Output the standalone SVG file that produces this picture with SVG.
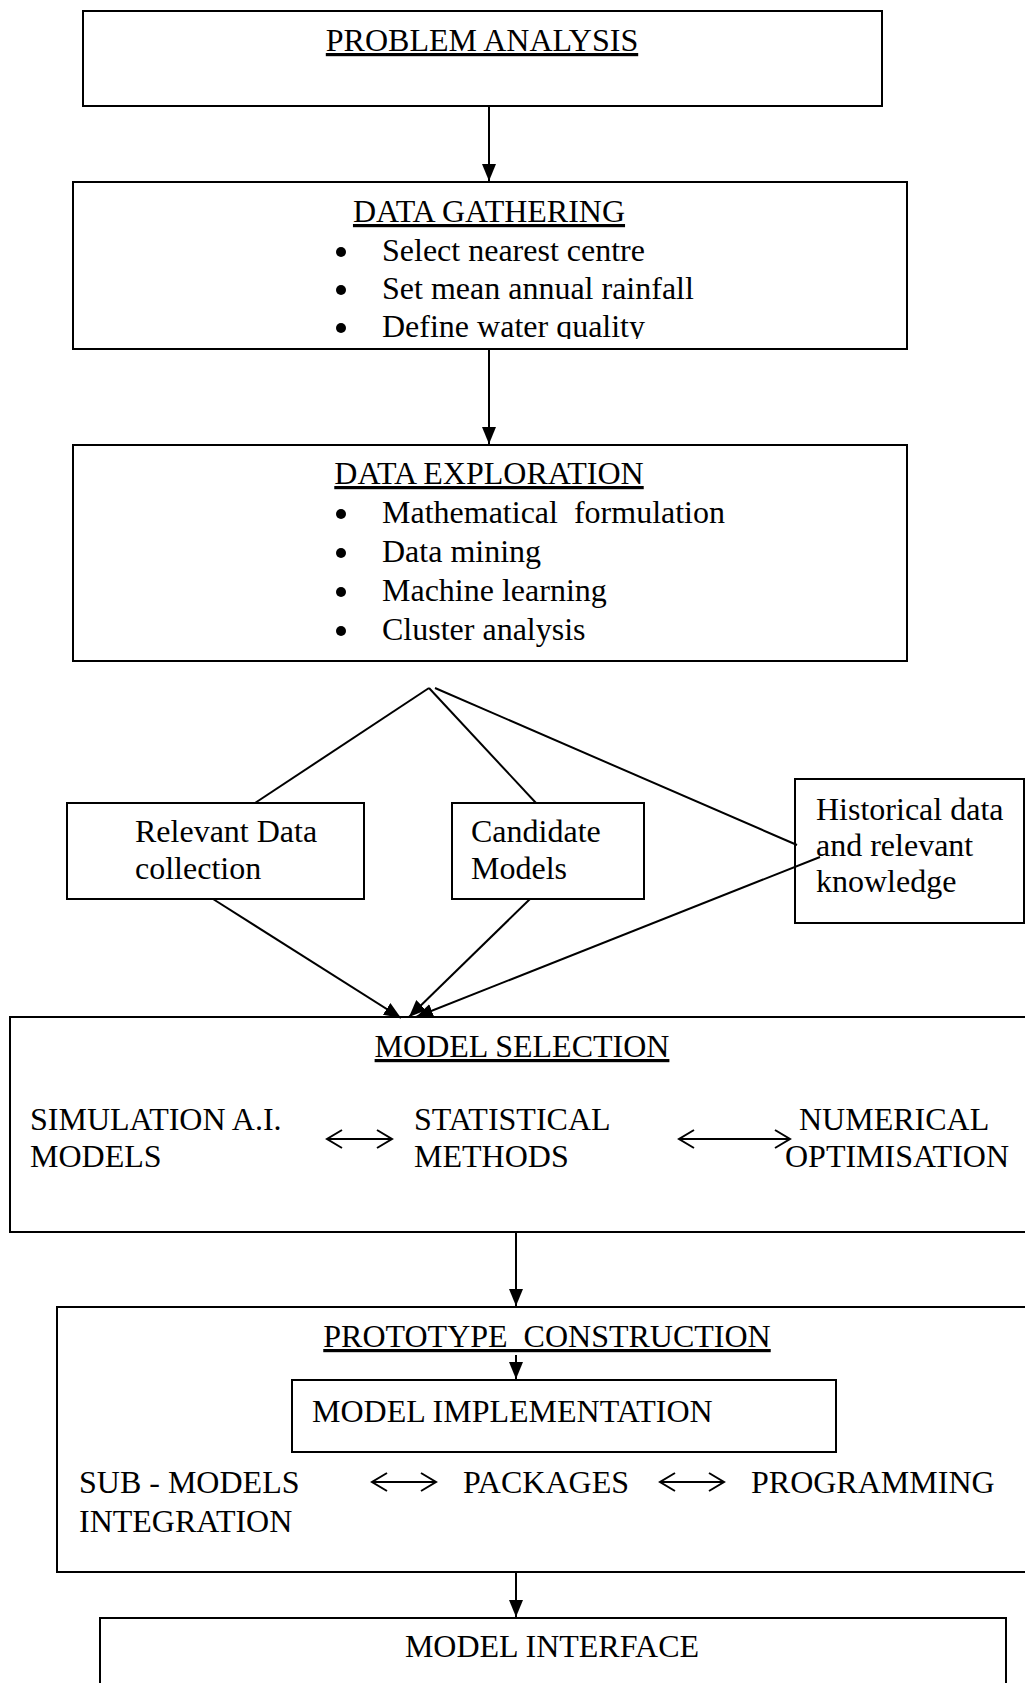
<svg xmlns="http://www.w3.org/2000/svg" width="1025" height="1683" viewBox="0 0 1025 1683">
<style>
text{font-family:"Liberation Serif","Times New Roman",serif;font-size:32px;fill:#000}
.box{fill:none;stroke:#000;stroke-width:2}
.c{text-anchor:middle}
.u{text-decoration:underline}
.ln{fill:none;stroke:#000;stroke-width:2}
.ar{marker-end:url(#ah)}
.dbl{marker-start:url(#ch);marker-end:url(#ch)}
.pre{white-space:pre}
</style>
<defs>
<marker id="ah" markerUnits="userSpaceOnUse" markerWidth="18" markerHeight="16" refX="17" refY="7" orient="auto"><path d="M0,0 L17,7 L0,14 z" fill="#000"/></marker>
<marker id="ch" markerUnits="userSpaceOnUse" markerWidth="20" markerHeight="22" refX="16" refY="10" orient="auto-start-reverse"><path d="M1,1 L16,10 L1,19" fill="none" stroke="#000" stroke-width="2"/></marker>
<clipPath id="dgclip"><rect x="73" y="182" width="834" height="157"/></clipPath>
</defs>
<rect x="0" y="0" width="1025" height="1683" fill="#fff"/>

<g id="problem-analysis">
<rect class="box" x="83" y="11" width="799" height="95"/>
<text class="c u" x="482" y="51">PROBLEM ANALYSIS</text>
</g>

<g id="data-gathering">
<rect class="box" x="73" y="182" width="834" height="167"/>
<text class="c u" x="489" y="222">DATA GATHERING</text>
<circle cx="341" cy="252" r="5"/>
<circle cx="341" cy="290" r="5"/>
<circle cx="341" cy="328" r="5"/>
<text x="382" y="261">Select nearest centre</text>
<text x="382" y="299">Set mean annual rainfall</text>
<text x="382" y="337" clip-path="url(#dgclip)">Define water quality</text>
</g>

<g id="data-exploration">
<rect class="box" x="73" y="445" width="834" height="216"/>
<text class="c u" x="489" y="484">DATA EXPLORATION</text>
<circle cx="341" cy="514" r="5"/>
<circle cx="341" cy="553" r="5"/>
<circle cx="341" cy="592" r="5"/>
<circle cx="341" cy="631" r="5"/>
<text x="382" y="523" class="pre">Mathematical  formulation</text>
<text x="382" y="562">Data mining</text>
<text x="382" y="601">Machine learning</text>
<text x="382" y="640">Cluster analysis</text>
</g>

<g id="relevant-data">
<rect class="box" x="67" y="803" width="297" height="96"/>
<text x="135" y="842">Relevant Data</text>
<text x="135" y="879">collection</text>
</g>

<g id="candidate-models">
<rect class="box" x="452" y="803" width="192" height="96"/>
<text x="471" y="842">Candidate</text>
<text x="471" y="879">Models</text>
</g>

<g id="historical-data">
<rect class="box" x="795" y="779" width="229" height="144"/>
<text x="816" y="820">Historical data</text>
<text x="816" y="856">and relevant</text>
<text x="816" y="892">knowledge</text>
</g>

<g id="model-selection">
<rect class="box" x="10" y="1017" width="1030" height="215"/>
<text class="c u" x="522" y="1057">MODEL SELECTION</text>
<text x="30" y="1130">SIMULATION A.I.</text>
<text x="30" y="1167">MODELS</text>
<text x="414" y="1130">STATISTICAL</text>
<text x="414" y="1167">METHODS</text>
<text x="799" y="1130">NUMERICAL</text>
<text x="785" y="1167">OPTIMISATION</text>
</g>

<g id="prototype-construction">
<rect class="box" x="57" y="1307" width="983" height="265"/>
<text class="c u pre" x="547" y="1347">PROTOTYPE  CONSTRUCTION</text>
<text x="79" y="1493">SUB - MODELS</text>
<text x="79" y="1532">INTEGRATION</text>
<text x="463" y="1493">PACKAGES</text>
<text x="751" y="1493">PROGRAMMING</text>
</g>

<g id="model-implementation">
<rect class="box" x="292" y="1380" width="544" height="72"/>
<text x="312" y="1422">MODEL IMPLEMENTATION</text>
</g>

<g id="model-interface">
<rect class="box" x="100" y="1618" width="906" height="80"/>
<text class="c" x="552" y="1657">MODEL INTERFACE</text>
</g>

<g id="connectors">
<line class="ln ar" x1="489" y1="106" x2="489" y2="181"/>
<line class="ln ar" x1="489" y1="349" x2="489" y2="444"/>
<line class="ln" x1="429" y1="688" x2="255" y2="803"/>
<line class="ln" x1="429" y1="688" x2="536" y2="803"/>
<line class="ln" x1="435" y1="688" x2="797" y2="845"/>
<line class="ln ar" x1="213" y1="899" x2="401" y2="1018"/>
<line class="ln ar" x1="530" y1="899" x2="409" y2="1017"/>
<line class="ln ar" x1="820" y1="857" x2="416" y2="1017"/>
<line class="ln dbl" x1="327" y1="1139" x2="392" y2="1139"/>
<line class="ln dbl" x1="679" y1="1139" x2="790" y2="1139"/>
<line class="ln ar" x1="516" y1="1232" x2="516" y2="1306"/>
<line class="ln ar" x1="516" y1="1355" x2="516" y2="1379"/>
<line class="ln dbl" x1="372" y1="1482" x2="436" y2="1482"/>
<line class="ln dbl" x1="660" y1="1482" x2="724" y2="1482"/>
<line class="ln ar" x1="516" y1="1572" x2="516" y2="1617"/>
</g>
</svg>
